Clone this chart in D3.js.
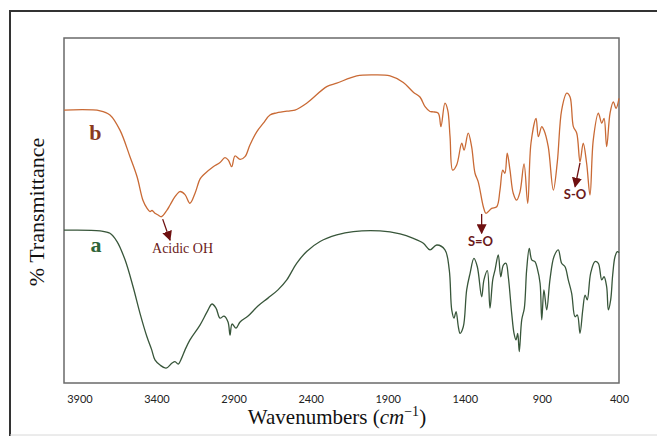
<!DOCTYPE html>
<html>
<head>
<meta charset="utf-8">
<script src="https://cdn.jsdelivr.net/npm/d3@7"></script>
<style>
  body { margin: 0; background: #fff; }
  svg { display: block; }
</style>
</head>
<body>
<div id="chart"></div>
<script>
// wavenumbers (cm-1) and % transmittance
const wnB = [4000, 3766, 3702, 3637, 3572, 3526, 3488, 3462, 3442, 3429, 3410, 3390, 3368, 3332, 3312, 3280, 3248, 3215, 3183, 3150, 3118, 3096, 3032, 2988, 2956, 2934, 2912, 2891, 2858, 2826, 2794, 2750, 2707, 2664, 2620, 2534, 2502, 2426, 2296, 2231, 2101, 1994, 1885, 1799, 1734, 1691, 1658, 1626, 1605, 1572, 1555, 1529, 1511, 1496, 1479, 1453, 1420, 1405, 1378, 1356, 1334, 1313, 1280, 1263, 1226, 1193, 1172, 1154, 1140, 1125, 1107, 1086, 1064, 1042, 1016, 992, 971, 938, 923, 901, 887, 859, 826, 800, 772, 739, 718, 696, 674, 653, 632, 610, 588, 567, 534, 512, 497, 480, 458, 437, 419, 400];
const trB = [79.1, 78.9, 77.7, 73.3, 65.6, 59.8, 53.0, 50.7, 49.7, 50.0, 49.2, 48.7, 48.2, 50.1, 51.6, 54.0, 55.5, 54.6, 52.1, 55.0, 59.1, 60.3, 62.7, 63.9, 65.3, 64.6, 62.7, 65.8, 64.8, 65.6, 69.0, 72.8, 75.3, 77.7, 78.3, 78.9, 79.1, 81.1, 85.9, 86.9, 89.0, 89.3, 89.0, 87.1, 84.3, 82.9, 80.1, 78.7, 78.6, 78.2, 74.3, 81.1, 79.1, 71.4, 61.7, 63.2, 69.5, 67.5, 72.4, 68.5, 60.8, 58.3, 51.1, 49.2, 50.6, 51.1, 55.9, 61.7, 60.8, 66.6, 61.7, 55.0, 53.0, 55.4, 63.5, 52.1, 69.5, 76.7, 71.4, 74.3, 73.3, 68.5, 55.9, 64.1, 79.1, 84.0, 83.0, 74.3, 72.4, 64.1, 69.5, 63.7, 54.5, 70.4, 78.2, 75.3, 76.7, 68.5, 78.2, 81.5, 79.6, 82.5];

const wnA = [4000, 3766, 3702, 3656, 3604, 3552, 3507, 3462, 3431, 3410, 3377, 3338, 3301, 3280, 3259, 3237, 3215, 3183, 3118, 3072, 3040, 3014, 2988, 2962, 2936, 2923, 2910, 2884, 2858, 2806, 2742, 2677, 2612, 2555, 2491, 2426, 2339, 2231, 2123, 1950, 1820, 1734, 1669, 1626, 1582, 1529, 1501, 1485, 1470, 1457, 1442, 1431, 1410, 1388, 1366, 1341, 1319, 1291, 1276, 1254, 1237, 1219, 1204, 1183, 1167, 1150, 1133, 1118, 1096, 1081, 1068, 1057, 1047, 1031, 1014, 999, 982, 966, 945, 930, 912, 901, 887, 869, 848, 822, 794, 772, 750, 729, 707, 685, 670, 653, 635, 620, 606, 584, 556, 534, 512, 497, 480, 469, 454, 441, 426, 411, 400];
const trA = [44.3, 44.1, 43.4, 41.0, 35.7, 27.9, 20.2, 13.4, 9.6, 6.7, 5.2, 4.3, 5.7, 6.2, 5.5, 7.2, 9.6, 12.5, 16.8, 20.6, 22.9, 21.7, 18.8, 19.4, 17.7, 13.9, 17.1, 15.9, 17.7, 19.4, 22.3, 24.6, 27.0, 29.9, 34.7, 38.1, 41.0, 42.9, 43.9, 44.1, 43.2, 41.9, 40.5, 38.6, 40.0, 38.6, 32.8, 21.2, 18.8, 20.7, 16.3, 14.4, 16.3, 27.0, 31.8, 36.1, 33.7, 25.0, 29.9, 32.6, 21.7, 29.9, 32.8, 37.1, 30.8, 34.2, 34.7, 30.8, 20.2, 14.4, 12.5, 14.4, 9.1, 18.3, 21.7, 32.8, 39.0, 35.7, 35.2, 33.2, 28.9, 18.3, 27.0, 21.2, 29.9, 36.6, 38.6, 34.7, 33.7, 29.9, 26.0, 19.2, 19.7, 14.4, 21.2, 25.5, 24.1, 31.8, 35.2, 34.7, 29.9, 30.8, 27.9, 21.2, 24.1, 31.3, 36.6, 38.1, 37.8];

const seriesNames = ["b", "a"];
const xTicks = [3900, 3400, 2900, 2400, 1900, 1400, 900, 400];

// curve letters: [wavenumber, transmittance]
const seriesLabelPos = [[3797, 70.4], [3792, 38.0]];

// annotations: text, arrow start, arrow tip, text anchor
const noteText = ["Acidic OH", "S=O", "S-O"];
const noteFrom = [[3360, 47.5], [1291, 49.0], [653, 63.8]];
const noteTo = [[3312, 41.4], [1291, 43.4], [685, 56.9]];
const noteAt = [[3231, 37.7], [1298, 39.7], [685, 53.2]];

const width = 657;
const height = 436;
const margin = { left: 64, right: 38, top: 38, bottom: 53 };

const svg = d3.select("#chart").append("svg")
    .attr("width", width)
    .attr("height", height);

// outer frame
svg.append("line").attr("x1", 10).attr("y1", 11).attr("x2", width).attr("y2", 11)
    .attr("stroke", "#333").attr("stroke-width", 2);
svg.append("line").attr("x1", 10).attr("y1", 10).attr("x2", 10).attr("y2", height)
    .attr("stroke", "#333").attr("stroke-width", 2);
svg.append("line").attr("x1", 10).attr("y1", height - 1).attr("x2", width).attr("y2", height - 1)
    .attr("stroke", "#d8d8d8").attr("stroke-width", 1);

const x = d3.scaleLinear()
    .domain([4000, 400])
    .range([margin.left, width - margin.right]);

const y = d3.scaleLinear()
    .domain([0, 100])
    .range([height - margin.bottom, margin.top]);

// plot box
svg.append("rect")
    .attr("x", x.range()[0])
    .attr("y", y.range()[1])
    .attr("width", x.range()[1] - x.range()[0])
    .attr("height", y.range()[0] - y.range()[1])
    .attr("fill", "none")
    .attr("stroke", "#6a6a6a")
    .attr("stroke-width", 1.5);

// x axis, labels only
const xAxis = d3.axisBottom(x)
    .tickValues(xTicks)
    .tickSize(0)
    .tickPadding(12)
    .tickFormat(d3.format("d"));

const gx = svg.append("g")
    .attr("transform", `translate(0,${y.range()[0]})`)
    .call(xAxis);
gx.select(".domain").remove();
gx.selectAll("text")
    .attr("font-family", "Lato, 'Open Sans', sans-serif")
    .attr("font-size", 11)
    .attr("fill", "#222");

// axis titles
const xt = svg.append("text")
    .attr("x", 337)
    .attr("y", 424)
    .attr("text-anchor", "middle")
    .attr("font-family", "'Liberation Serif', 'DejaVu Serif', serif")
    .attr("font-size", 21)
    .attr("fill", "#111");
xt.append("tspan").text("Wavenumbers (");
xt.append("tspan").attr("font-style", "italic").text("cm");
xt.append("tspan").attr("font-size", 14).attr("dy", -8).text("−1");
xt.append("tspan").attr("dy", 8).text(")");

svg.append("text")
    .attr("transform", "translate(44,212) rotate(-90)")
    .attr("text-anchor", "middle")
    .attr("font-family", "'Liberation Serif', 'DejaVu Serif', serif")
    .attr("font-size", 22)
    .attr("fill", "#111")
    .text("% Transmittance");

// spectra
const line = d3.line()
    .x(d => x(d[0]))
    .y(d => y(d[1]))
    .curve(d3.curveCatmullRom.alpha(0.5));

const spectra = [
    { name: "b", color: "#c96a35", points: d3.zip(wnB, trB) },
    { name: "a", color: "#38563a", points: d3.zip(wnA, trA) }
];

svg.selectAll(".spectrum")
    .data(spectra)
    .join("path")
    .attr("class", "spectrum")
    .attr("d", d => line(d.points))
    .attr("fill", "none")
    .attr("stroke", d => d.color)
    .attr("stroke-width", 1.3);

// curve letters
const letterColors = ["#8a3a1e", "#2f6438"];
svg.selectAll(".series-label")
    .data(seriesNames)
    .join("text")
    .attr("class", "series-label")
    .attr("x", (d, i) => x(seriesLabelPos[i][0]))
    .attr("y", (d, i) => y(seriesLabelPos[i][1]))
    .attr("text-anchor", "middle")
    .attr("font-family", "'Liberation Serif', 'DejaVu Serif', serif")
    .attr("font-size", 22)
    .attr("font-weight", "bold")
    .attr("fill", (d, i) => letterColors[i])
    .text(d => d);

// annotations
svg.append("defs").append("marker")
    .attr("id", "arrow")
    .attr("viewBox", "0 0 10 10")
    .attr("refX", 9)
    .attr("refY", 5)
    .attr("markerWidth", 10)
    .attr("markerHeight", 10)
    .attr("markerUnits", "userSpaceOnUse")
    .attr("orient", "auto")
    .append("path")
    .attr("d", "M0,0 L10,5 L0,10 Z")
    .attr("fill", "#6e1010");

svg.selectAll(".note-arrow")
    .data(noteText)
    .join("line")
    .attr("class", "note-arrow")
    .attr("x1", (d, i) => x(noteFrom[i][0]))
    .attr("y1", (d, i) => y(noteFrom[i][1]))
    .attr("x2", (d, i) => x(noteTo[i][0]))
    .attr("y2", (d, i) => y(noteTo[i][1]))
    .attr("stroke", "#6e1010")
    .attr("stroke-width", 1.3)
    .attr("marker-end", "url(#arrow)");

svg.selectAll(".note")
    .data(noteText)
    .join("text")
    .attr("class", "note")
    .attr("x", (d, i) => x(noteAt[i][0]))
    .attr("y", (d, i) => y(noteAt[i][1]))
    .attr("text-anchor", "middle")
    .attr("font-family", (d, i) => i === 0 ? "'Liberation Serif', serif" : "Lato, 'Open Sans', sans-serif")
    .attr("font-size", (d, i) => i === 0 ? 14 : 13)
    .attr("font-weight", (d, i) => i === 0 ? "normal" : "bold")
    .attr("fill", "#6b1a1a")
    .text(d => d);
</script>
</body>
</html>
